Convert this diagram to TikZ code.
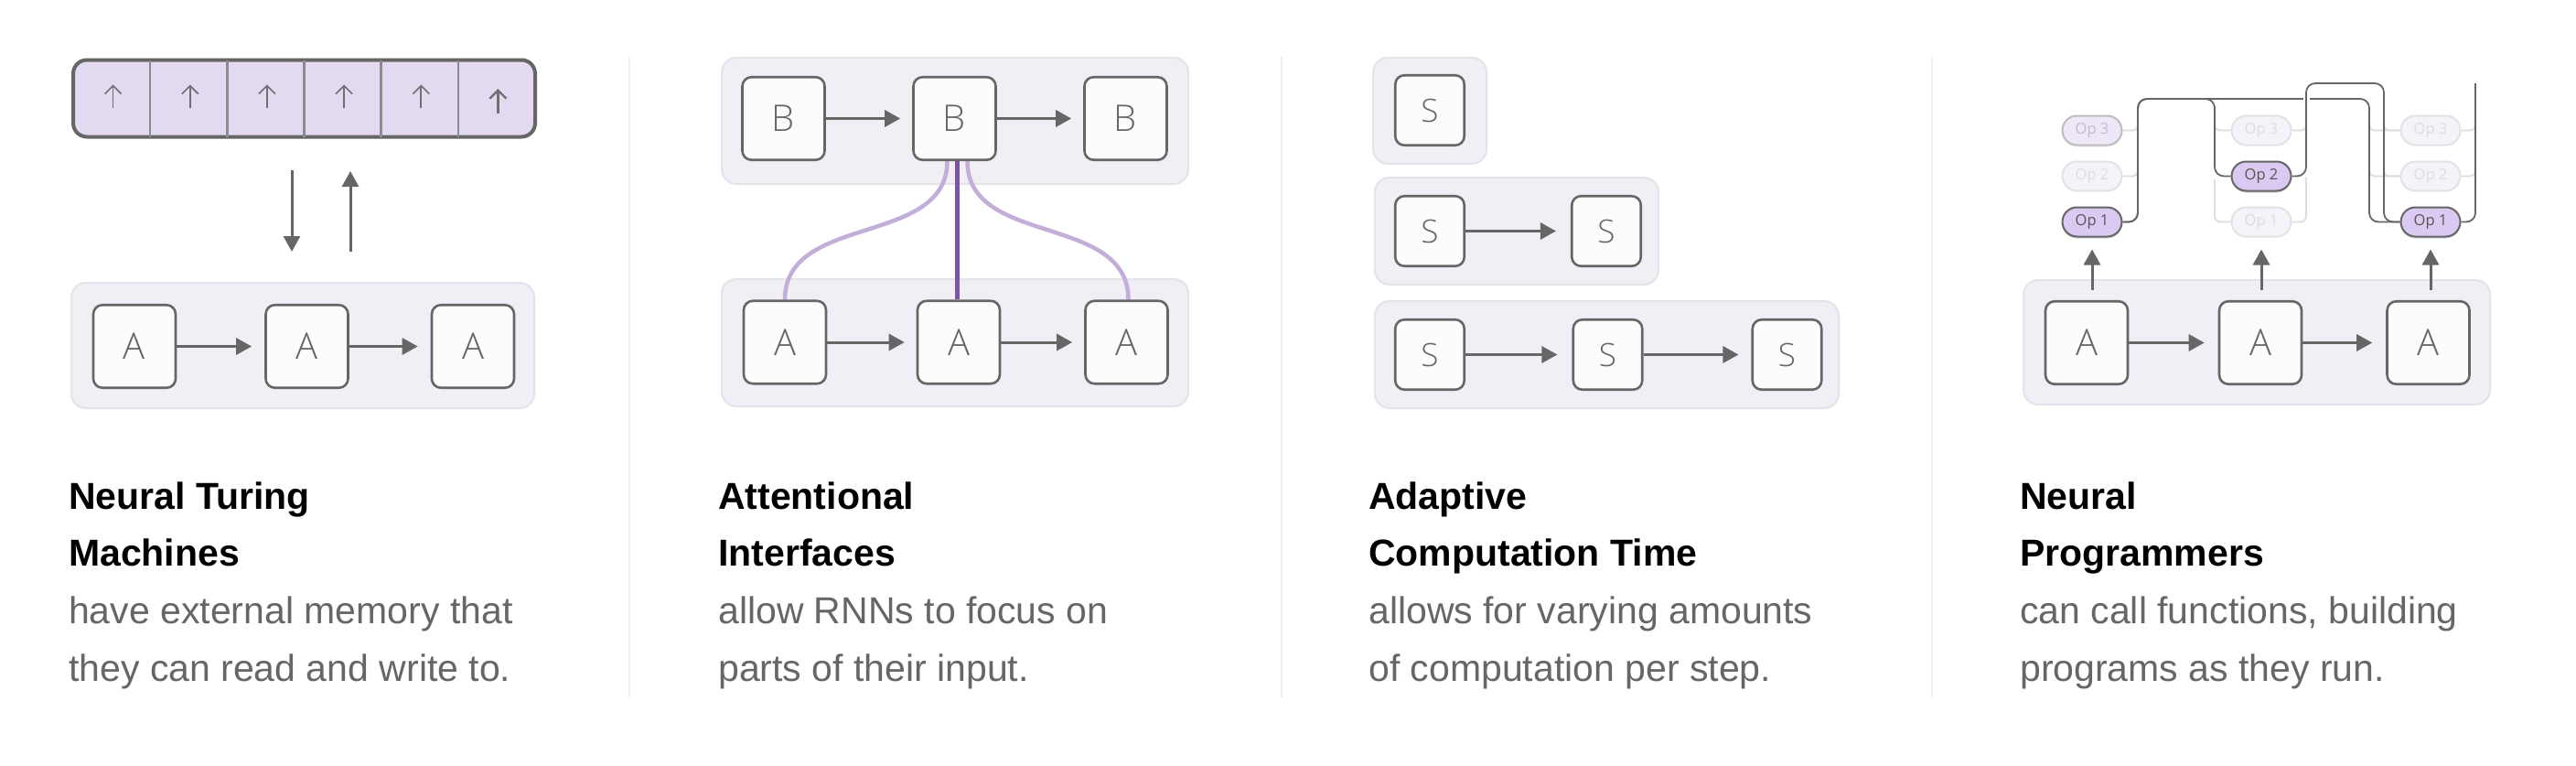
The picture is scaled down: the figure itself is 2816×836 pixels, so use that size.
\documentclass[tikz,border=0pt]{standalone}
\usepackage{fontspec}
\setmainfont{Liberation Sans}
\newfontfamily\boxfont{Open Sans Light}
\newfontfamily\opfont{Open Sans}
\usetikzlibrary{arrows.meta,shadows}

\definecolor{grp}{HTML}{F0EFF5}
\definecolor{grpline}{HTML}{E4E3E9}
\definecolor{cellfill}{HTML}{FCFCFC}
\definecolor{dark}{HTML}{666666}
\definecolor{memfill}{HTML}{E3DAF2}
\definecolor{memdiv}{HTML}{8C8C8C}
\definecolor{glyphcol}{HTML}{707070}
\definecolor{attnlight}{HTML}{C3AEDA}
\definecolor{attndark}{HTML}{7B53AC}
\definecolor{opfill}{HTML}{DACAF1}
\definecolor{optext}{HTML}{555555}
\definecolor{opfaint}{HTML}{F5F2FA}
\definecolor{opfaintline}{HTML}{E2E2E2}
\definecolor{opfainttext}{HTML}{DDDDDD}
\definecolor{opmidfill}{HTML}{EEE7F7}
\definecolor{opmidline}{HTML}{BDBDBD}
\definecolor{opmidtext}{HTML}{C3BECA}
\definecolor{stubcol}{HTML}{DCDCDC}
\definecolor{desccol}{HTML}{666666}
\definecolor{divcol}{HTML}{EEEEEE}

\pgfdeclarelayer{back}
\pgfdeclarelayer{mid}
\pgfsetlayers{back,mid,main}

\begin{document}
\begin{tikzpicture}[x=1pt,y=-1pt,
  group/.style={draw=grpline, line width=2pt, fill=grp, rounded corners=16pt, inner sep=0pt},
  cellbox/.style={draw=dark, line width=2.6pt, fill=cellfill, rounded corners=10pt,
    minimum width=90pt, minimum height=90.5pt, inner sep=0pt, text=dark,
    font=\boxfont\fontsize{40}{40}\selectfont},
  sbox/.style={cellbox, minimum width=75.5pt, minimum height=76.5pt,
    font=\boxfont\fontsize{35}{35}\selectfont},
  arr/.style={draw=dark, line width=3pt, -{Triangle[length=17pt,width=18pt]}},
  glyph/.style={draw=glyphcol, line width=1.6pt, -{Straight Barb[length=9pt,width=18pt]}},
  attnL/.style={draw=attnlight, line width=4.5pt},
  attnD/.style={draw=attndark, line width=4.5pt},
  op/.style={rounded corners=16pt, minimum width=65pt, minimum height=32pt, inner sep=0pt,
    line width=2pt, font=\opfont\fontsize{16.5}{16.5}\selectfont},
  opon/.style={op, draw=dark, fill=opfill, text=optext,
    drop shadow={shadow xshift=0pt, shadow yshift=-2pt, opacity=0.18, fill=black}},
  opmid/.style={op, draw=opmidline, fill=opmidfill, text=opmidtext,
    drop shadow={shadow xshift=0pt, shadow yshift=-2pt, opacity=0.08, fill=black}},
  opoff/.style={op, draw=opfaintline, fill=opfaint, text=opfainttext},
  wire/.style={draw=dark, line width=1.8pt, rounded corners=10pt},
  stub/.style={draw=stubcol, line width=1.8pt, rounded corners=6pt},
  title/.style={anchor=base west, inner sep=0pt, text=black,
    font=\bfseries\fontsize{41}{41}\selectfont},
  descr/.style={anchor=base west, inner sep=0pt, text=desccol,
    font=\fontsize{41}{41}\selectfont},
  divider/.style={draw=divcol, line width=2pt}
]
\useasboundingbox (0,0) rectangle (2816,836);
\begin{pgfonlayer}{back}
\fill[white] (0,0) rectangle (2816,836);
\draw[divider] (688,62) -- (688,762);
\draw[divider] (1401,62) -- (1401,762);
\draw[divider] (2112,62) -- (2112,762);
\end{pgfonlayer}

% ================= Panel 1 : Neural Turing Machines =================
\node[draw=dark, line width=4pt, fill=memfill, rounded corners=15pt,
      minimum width=505pt, minimum height=84pt, inner sep=0pt] (mem) at (332.5,107.5) {};
\foreach \k in {1,...,5} {
  \draw[draw=memdiv, line width=2.5pt] ({80+84.17*\k},65.5) -- ({80+84.17*\k},149.5);
}
\foreach \k in {1,...,6} {
  \coordinate (cell\k) at ({80+84.17*(\k-0.5)+1.5},107.5);
}
\foreach \k in {1,...,5} {
  \draw[glyph] ([yshift=-10.5pt]cell\k) -- ([yshift=15pt]cell\k);
}
\draw[glyph, line width=2.4pt] ([yshift=-16.5pt]cell6) -- ([yshift=10.5pt]cell6);

\coordinate (rdA) at (319,186);
\coordinate (rdB) at (319,275);
\coordinate (wrA) at (383,275);
\coordinate (wrB) at (383,187);
\draw[arr] (rdA) -- (rdB);
\draw[arr] (wrA) -- (wrB);

\begin{pgfonlayer}{back}
\node[group, minimum width=506pt, minimum height=137pt] (p1g) at (331,377.5) {};
\end{pgfonlayer}
\node[cellbox] (p1a1) at (147,378.5) {A};
\node[cellbox] (p1a2) at (335.5,378.5) {A};
\node[cellbox] (p1a3) at (517,378.5) {A};
\draw[arr, shorten >=14pt] (p1a1) -- (p1a2);
\draw[arr, shorten >=14pt] (p1a2) -- (p1a3);

\node[title] (t1a) at (75,556) {Neural Turing};
\node[title] (t1b) at (75,618) {Machines};
\node[descr] (d1a) at (75,681.5) {have external memory that};
\node[descr] (d1b) at (75,744.5) {they can read and write to.};

% ================= Panel 2 : Attentional Interfaces =================
\begin{pgfonlayer}{back}
\node[group, minimum width=510pt, minimum height=138pt] (p2top) at (1044,132) {};
\node[group, minimum width=510pt, minimum height=139pt] (p2bot) at (1044,374.5) {};
\end{pgfonlayer}

\node[cellbox] (p2b1) at (856.5,129.5) {B};
\node[cellbox] (p2b2) at (1043.5,129.5) {B};
\node[cellbox] (p2b3) at (1230.5,129.5) {B};
\node[cellbox] (p2a1) at (858,374) {A};
\node[cellbox] (p2a2) at (1048,374) {A};
\node[cellbox] (p2a3) at (1231.5,374) {A};

\begin{pgfonlayer}{mid}
\draw[attnL] ([xshift=-8pt]p2b2.south) .. controls +(0,94) and +(0,-95) .. (p2a1.north);
\draw[attnL] ([xshift=14pt]p2b2.south) .. controls +(0,94) and +(0,-95) .. ([xshift=2pt]p2a3.north);
\draw[attnD] ([xshift=3pt]p2b2.south) -- ([xshift=-1.5pt]p2a2.north);
\end{pgfonlayer}

\draw[arr, shorten >=13pt] (p2b1) -- (p2b2);
\draw[arr, shorten >=13pt] (p2b2) -- (p2b3);
\draw[arr, shorten >=13pt] (p2a1) -- (p2a2);
\draw[arr, shorten >=13pt] (p2a2) -- (p2a3);

\node[title] (t2a) at (785,556) {Attentional};
\node[title] (t2b) at (785,618) {Interfaces};
\node[descr] (d2a) at (785,681.5) {allow RNNs to focus on};
\node[descr] (d2b) at (785,744.5) {parts of their input.};

% ================= Panel 3 : Adaptive Computation Time =================
\begin{pgfonlayer}{back}
\node[group, minimum width=124pt, minimum height=116pt] (p3g1) at (1563,121) {};
\node[group, minimum width=310pt, minimum height=117pt] (p3g2) at (1658,252.5) {};
\node[group, minimum width=507pt, minimum height=117pt] (p3g3) at (1756.5,387.5) {};
\end{pgfonlayer}

\node[sbox] (p3s11) at (1563,120.5) {S};
\node[sbox] (p3s21) at (1563,252.5) {S};
\node[sbox] (p3s22) at (1756,252.5) {S};
\node[sbox] (p3s31) at (1563,387.5) {S};
\node[sbox] (p3s32) at (1757.5,387.5) {S};
\node[sbox] (p3s33) at (1953.5,387.5) {S};
\draw[arr, shorten >=16pt] (p3s21) -- (p3s22);
\draw[arr, shorten >=16pt] (p3s31) -- (p3s32);
\draw[arr, shorten >=14pt] (p3s32) -- (p3s33);

\node[title] (t3a) at (1496,556) {Adaptive};
\node[title] (t3b) at (1496,618) {Computation Time};
\node[descr] (d3a) at (1496,681.5) {allows for varying amounts};
\node[descr] (d3b) at (1496,744.5) {of computation per step.};

% ================= Panel 4 : Neural Programmers =================
\begin{pgfonlayer}{back}
\node[group, minimum width=510pt, minimum height=136pt] (p4g) at (2467,374) {};
\end{pgfonlayer}
\node[cellbox] (p4a1) at (2281,374.5) {A};
\node[cellbox] (p4a2) at (2471,374.5) {A};
\node[cellbox] (p4a3) at (2654.5,374.5) {A};
\draw[arr, shorten >=15pt] (p4a1) -- (p4a2);
\draw[arr, shorten >=15pt] (p4a2) -- (p4a3);

\node[opmid] (op3c1) at (2287,142.5) {Op 3};
\node[opoff] (op2c1) at (2287,192.5) {Op 2};
\node[opon]  (op1c1) at (2287,242.5) {Op 1};
\node[opoff] (op3c2) at (2472,142.5) {Op 3};
\node[opon]  (op2c2) at (2472,192.5) {Op 2};
\node[opoff] (op1c2) at (2472,242.5) {Op 1};
\node[opoff] (op3c3) at (2657,142.5) {Op 3};
\node[opoff] (op2c3) at (2657,192.5) {Op 2};
\node[opon]  (op1c3) at (2657,242.5) {Op 1};

\begin{pgfonlayer}{mid}
% light stubs
\draw[stub] (op3c1.east) -| (2337,126);
\draw[stub] (op2c1.east) -| (2337,176);
\draw[stub] (2421,124) |- (op3c2.west);
\draw[stub] (2421,196) |- (op1c2.west);
\draw[stub] (op3c2.east) -| (2521,126);
\draw[stub] (op1c2.east) -| (2521,194);
\draw[stub] (2590,124) |- (op3c3.west);
\draw[stub] (2606,124) |- (op3c3.west);
\draw[stub] (2590,174) |- (op2c3.west);
\draw[stub] (2606,174) |- (op2c3.west);
\draw[stub] (op3c3.east) -| (2706,126);
\draw[stub] (op2c3.east) -| (2706,176);
% dark wires
\coordinate (p4top) at (2706,91);
\draw[wire] (op1c1.east) -| (2337,108) -- (2421,108) |- (op2c2.west);
\draw[wire] (op1c1.east) -| (2337,108) -- (2590,108) |- (op1c3.west);
\draw[white, line width=7pt] (2521,100) -- (2521,116);
\draw[wire] (op2c2.east) -| (2521,91) -- (2606,91) |- (op1c3.west);
\draw[wire] (op1c3.east) -| (p4top);
\end{pgfonlayer}

% up arrows from RNN to ops
\draw[arr] (op1c1.south |- p4a1.north) ++(0,-11) -- ([yshift=-13pt]op1c1.south);
\draw[arr] (op1c2.south |- p4a2.north) ++(0,-11) -- ([yshift=-13pt]op1c2.south);
\draw[arr] (op1c3.south |- p4a3.north) ++(0,-11) -- ([yshift=-13pt]op1c3.south);

\node[title] (t4a) at (2208,556) {Neural};
\node[title] (t4b) at (2208,618) {Programmers};
\node[descr] (d4a) at (2208,681.5) {can call functions, building};
\node[descr] (d4b) at (2208,744.5) {programs as they run.};
\end{tikzpicture}
\end{document}
